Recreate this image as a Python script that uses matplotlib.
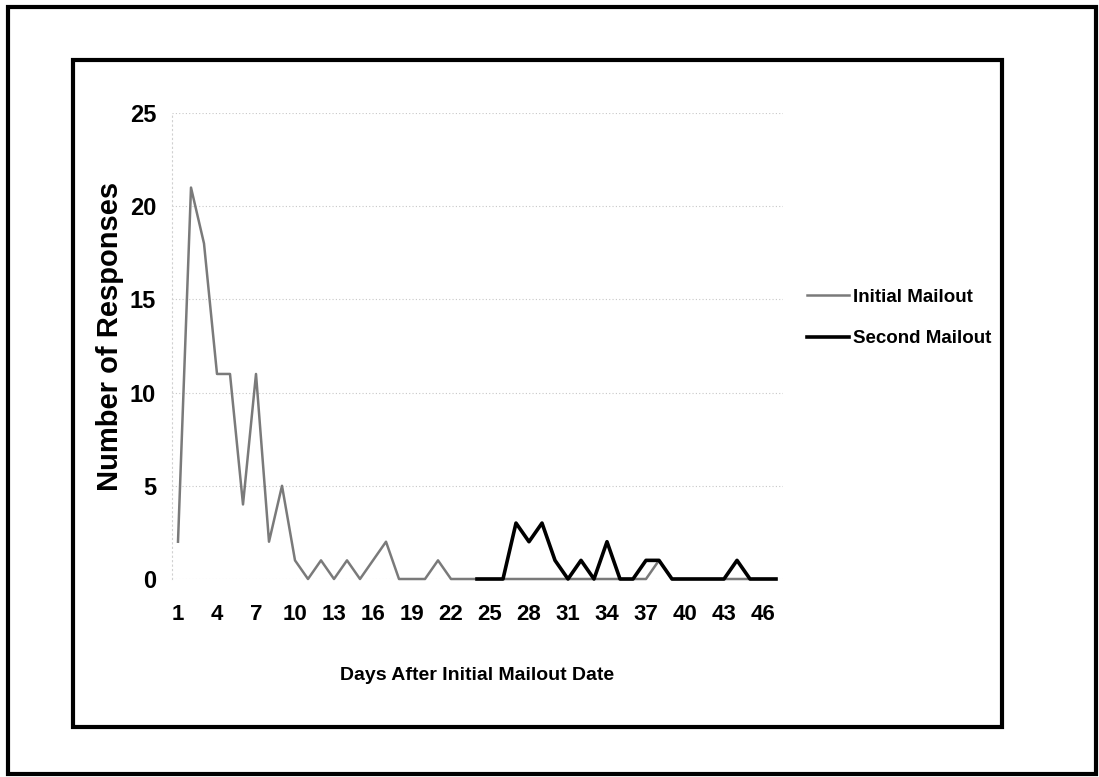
# Mailout responses line chart
import numpy as np
import matplotlib.pyplot as plt
from matplotlib.patches import Rectangle

plt.rcParams['font.family'] = ['Liberation Sans', 'DejaVu Sans']
plt.rcParams['font.weight'] = 'bold'

# Data
days = list(range(1, 48))
initial_mailout = [2, 21, 18, 11, 11, 4, 11, 2, 5, 1,
                   0, 1, 0, 1, 0, 1, 2, 0, 0, 0,
                   1, 0, 0, 0, 0, 0, 0, 0, 0, 0,
                   0, 0, 0, 0, 0, 0, 0, 1, 0, 0,
                   0, 0, 0, 0, 0, 0, 0]
second_start = 24
second_mailout = [0, 0, 0, 3, 2, 3, 1, 0, 1, 0,
                  2, 0, 0, 1, 1, 0, 0, 0, 0, 0,
                  1, 0, 0, 0]
tick_days = days[::3]
tick_labels = [str(d) for d in tick_days]
y_ticks = [0, 5, 10, 15, 20, 25]

fig = plt.figure(figsize=(10.99, 7.77), dpi=100)

# outer and inner frames
fig.patches.append(Rectangle((8 / 1099, 3 / 777), 1088 / 1099, 767 / 777,
                             transform=fig.transFigure, fill=False,
                             edgecolor='black', linewidth=3))
fig.patches.append(Rectangle((73 / 1099, 50 / 777), 929 / 1099, 667 / 777,
                             transform=fig.transFigure, fill=False,
                             edgecolor='black', linewidth=3))

ax = fig.add_axes([171.5 / 1099, 1 - 579 / 777, 611 / 1099, 466 / 777])

second_days = days[second_start - 1:]
ax.plot(days, initial_mailout, color='#7a7a7a', linewidth=1.8,
        label='Initial Mailout', clip_on=False, zorder=3)
ax.plot(second_days, second_mailout, color='black', linewidth=2.6,
        label='Second Mailout', clip_on=False, zorder=4)

ax.set_xlim(0.5, 47.5)
ax.set_ylim(0, 25)
ax.set_xticks(tick_days)
ax.set_xticklabels(tick_labels, fontsize=16, fontweight='bold')
ax.set_yticks(y_ticks)
ax.set_yticklabels([str(v) for v in y_ticks], fontsize=17, fontweight='bold')
ax.tick_params(axis='x', length=0, pad=18)
ax.tick_params(axis='y', length=0, pad=11)

ax.grid(axis='y', color='#c8c8c8', linestyle=(0, (1, 2)), linewidth=0.8)
for s in ['top', 'right', 'bottom']:
    ax.spines[s].set_visible(False)
ax.spines['left'].set_color('#d0d0d0')
ax.spines['left'].set_linestyle((0, (1, 3)))

ax.set_xlabel('Days After Initial Mailout Date', fontsize=14, fontweight='bold',
              labelpad=30)
ax.set_ylabel('Number of Responses', fontsize=21, fontweight='bold')
ax.yaxis.set_label_coords(-0.078, 0.521)

leg = ax.legend(loc='center left', bbox_to_anchor=(798 / 1099, 1 - 318 / 777),
                bbox_transform=fig.transFigure, frameon=False, fontsize=13.5,
                handlelength=2.2, handletextpad=0.25, labelspacing=1.3,
                borderpad=0)
for t in leg.get_texts():
    t.set_fontweight('bold')

fig.savefig('out.png', dpi=100)
